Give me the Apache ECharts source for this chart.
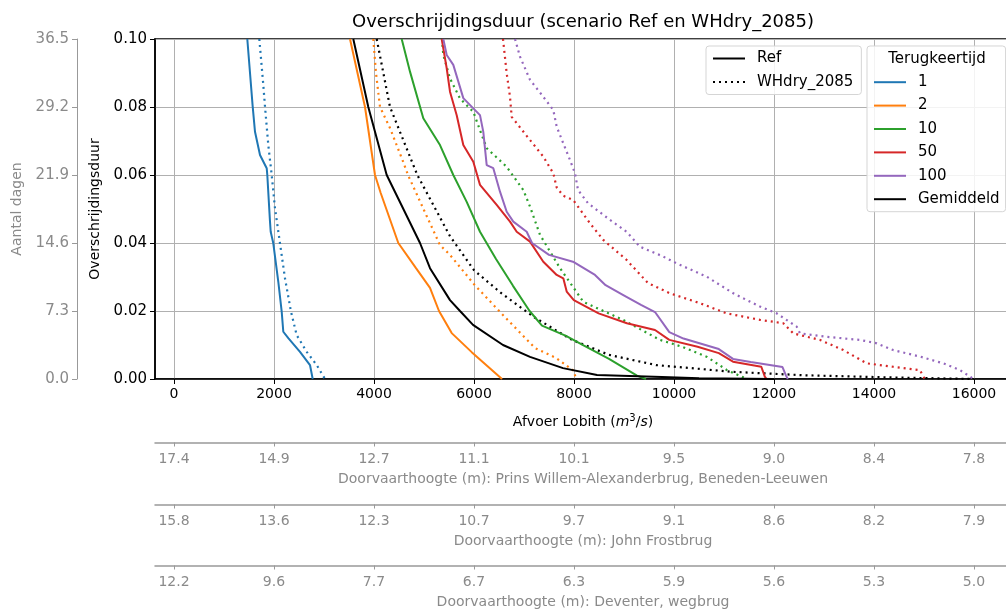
<!DOCTYPE html>
<html><head><meta charset="utf-8">
<script src="https://cdn.jsdelivr.net/npm/echarts@6/dist/echarts.min.js"></script>
<style>html,body{margin:0;padding:0;background:#fff}#c{width:1006px;height:612px}</style>
</head><body><div id="c"></div>
<script>
// ---- tick labels ----
const flowTicks = [0, 2000, 4000, 6000, 8000, 10000, 12000, 14000, 16000];
const pwaLabels = ['17.4','14.9','12.7','11.1','10.1','9.5','9.0','8.4','7.8'];
const jfLabels  = ['15.8','13.6','12.3','10.7','9.7','9.1','8.6','8.2','7.9'];
const dvLabels  = ['12.2','9.6','7.7','6.7','6.3','5.9','5.6','5.3','5.0'];

const returnPeriods = ['1', '2', '10', '50', '100', 'Gemiddeld'];
const colors = ['#1f77b4', '#ff7f0e', '#2ca02c', '#d62728', '#9467bd', '#000000'];

// ---- curves: [afvoer (m3/s), overschrijdingsduur] ----
const ref_T1 = [[1466,0.100],[1574,0.0801],[1620,0.0727],[1720,0.0659],[1854,0.062],[1866,0.060],[1920,0.0463],[1934,0.0433],[1986,0.0399],[2086,0.0286],[2154,0.0198],[2186,0.0139],[2286,0.012],[2520,0.008],[2720,0.0041],[2774,0]];
const why_T1 = [[1706,0.100],[1786,0.0865],[1820,0.0801],[1886,0.0688],[1954,0.060],[2020,0.0502],[2120,0.0399],[2220,0.0296],[2340,0.0198],[2454,0.0129],[2654,0.008],[2854,0.0041],[3020,0]];

const ref_T2 = [[3520,0.100],[3820,0.080],[4020,0.060],[4134,0.0547],[4486,0.040],[4840,0.0326],[5120,0.0268],[5300,0.020],[5554,0.0135],[5954,0.0079],[6560,0]];
const why_T2 = [[3986,0.100],[4040,0.090],[4120,0.080],[4320,0.0738],[4580,0.064],[4680,0.060],[4980,0.0503],[5320,0.0394],[5520,0.0365],[6016,0.0276],[6580,0.0188],[7220,0.0091],[7640,0.0062],[7996,0.0024],[8040,0]];

const ref_T10 = [[4554,0.100],[4720,0.0904],[4986,0.0767],[5320,0.0688],[5586,0.060],[5854,0.0521],[6120,0.0433],[6440,0.0353],[6780,0.0274],[7112,0.020],[7360,0.0157],[7840,0.0127],[8200,0.0098],[8700,0.0059],[9260,0.001],[9440,0]];
const why_T10 = [[5360,0.100],[5386,0.0953],[5520,0.0884],[5720,0.0825],[5986,0.0786],[6120,0.0732],[6254,0.0679],[6654,0.0624],[6986,0.0556],[7120,0.0507],[7320,0.0424],[7720,0.0326],[8186,0.0227],[8980,0.0174],[9720,0.0115],[10180,0.0094],[10660,0.0065],[11060,0.0026],[11460,0]];

const ref_T50 = [[5354,0.100],[5454,0.0914],[5520,0.0845],[5654,0.0776],[5786,0.0688],[5986,0.0639],[6120,0.0571],[6454,0.0512],[6720,0.0463],[6854,0.0433],[7120,0.0404],[7386,0.0345],[7654,0.0306],[7786,0.0296],[7854,0.0257],[7996,0.0232],[8492,0.0193],[9058,0.0164],[9620,0.0144],[9906,0.0115],[10472,0.0095],[10896,0.0076],[11180,0.0051],[11746,0.0036],[11816,0.0007],[11852,0]];
const why_T50 = [[6580,0.100],[6654,0.0899],[6720,0.083],[6754,0.0771],[7054,0.0715],[7386,0.0654],[7586,0.0605],[7654,0.0563],[7786,0.0539],[7986,0.0526],[8320,0.0458],[8586,0.0409],[9054,0.035],[9480,0.0282],[9920,0.0252],[10520,0.0223],[11054,0.0193],[11720,0.0174],[12186,0.0164],[12386,0.0134],[12920,0.0115],[13386,0.0085],[13854,0.0046],[14386,0.0036],[14920,0.0026],[14986,0.0007],[15020,0]];

const ref_T100 = [[5386,0.100],[5454,0.0953],[5586,0.0924],[5786,0.0826],[5986,0.0796],[6120,0.0776],[6186,0.0727],[6254,0.0629],[6386,0.062],[6520,0.0551],[6654,0.0492],[6786,0.0463],[7054,0.0433],[7160,0.040],[7500,0.0365],[7996,0.0344],[8420,0.0306],[8632,0.0276],[8986,0.0247],[9340,0.0218],[9620,0.0197],[9906,0.0138],[10190,0.0119],[10896,0.0088],[11180,0.0059],[11534,0.005],[12170,0.0035],[12240,0.001],[12276,0]];
const why_T100 = [[6820,0.100],[6920,0.0948],[7120,0.088],[7386,0.083],[7586,0.0791],[7654,0.0742],[7786,0.0693],[7920,0.0644],[8020,0.0605],[8080,0.0556],[8280,0.0517],[8720,0.0468],[9054,0.0433],[9320,0.0389],[9786,0.036],[10054,0.034],[10654,0.0301],[11186,0.0252],[11720,0.0213],[12054,0.0193],[12454,0.0154],[12520,0.0134],[13054,0.0124],[13720,0.0115],[14054,0.0105],[14386,0.0085],[14920,0.0066],[15386,0.0046],[15720,0.0026],[15920,0.0007],[15986,0]];

const ref_Gem = [[3586,0.100],[3886,0.080],[4254,0.060],[4920,0.040],[5120,0.0326],[5520,0.0232],[5720,0.020],[5980,0.0159],[6580,0.010],[7120,0.0065],[7780,0.0032],[8460,0.0012],[9760,0.0006],[10500,0.0002],[12000,0]];
const why_Gem = [[4054,0.100],[4320,0.080],[4866,0.060],[5520,0.042],[6000,0.032],[6540,0.0253],[7200,0.0182],[7960,0.0115],[8700,0.0071],[9640,0.0041],[11180,0.0021],[12600,0.0011],[14520,0.0004],[16000,0]];

const refCurves = [ref_T1, ref_T2, ref_T10, ref_T50, ref_T100, ref_Gem];
const whyCurves = [why_T1, why_T2, why_T10, why_T50, why_T100, why_Gem];

const FONT = 'DejaVu Sans';
const GREY = '#8a8a8a';
const DOT = [2, 4];

const series = [];
returnPeriods.forEach((rp, i) => {
  series.push({
    name: rp, type: 'line', xAxisIndex: 0, yAxisIndex: 0, data: refCurves[i],
    symbol: 'none', showSymbol: false, smooth: false, silent: true,
    lineStyle: { color: colors[i], width: 2 }, itemStyle: { color: colors[i] }, z: 3
  });
  series.push({
    name: rp + ' (WHdry_2085)', type: 'line', xAxisIndex: 0, yAxisIndex: 0, data: whyCurves[i],
    symbol: 'none', showSymbol: false, silent: true,
    lineStyle: { color: colors[i], width: 2.2, type: DOT, cap: 'butt' }, itemStyle: { color: colors[i] }, z: 2
  });
});
series.push({ name: 'Ref', type: 'line', data: [], symbol: 'none', lineStyle: { color: '#000', width: 2 }, itemStyle: { color: '#000' } });
series.push({ name: 'WHdry_2085', type: 'line', data: [], symbol: 'none', lineStyle: { color: '#000', width: 2.2, type: DOT, cap: 'butt' }, itemStyle: { color: '#000' } });

function lowerAxis(gridIndex, labels, title) {
  return {
    type: 'value', gridIndex: gridIndex, position: 'bottom', min: -380, max: 16740,
    axisLine: { show: true, onZero: false, lineStyle: { color: '#999', width: 1.5 } },
    axisTick: { show: true, customValues: flowTicks, length: 4, lineStyle: { color: '#999' } },
    axisLabel: { show: true, customValues: flowTicks, margin: 10, color: GREY, fontFamily: FONT, fontSize: 14,
      formatter: v => { const k = flowTicks.indexOf(Math.round(v)); return k >= 0 ? labels[k] : ''; } },
    splitLine: { show: false },
    name: title, nameLocation: 'middle', nameGap: 30,
    nameTextStyle: { color: GREY, fontFamily: FONT, fontSize: 14 }
  };
}

const legendCommon = {
  orient: 'vertical', itemWidth: 32, itemHeight: 14,
  backgroundColor: 'rgba(255,255,255,0.85)', borderColor: '#d5d5d5', borderWidth: 1, borderRadius: 3,
  selectedMode: false,
  itemStyle: { opacity: 0, borderWidth: 0, color: 'rgba(0,0,0,0)' },
  textStyle: { fontFamily: FONT, fontSize: 15, color: '#000', padding: [0, 0, 0, 7] }
};

const option = {
  animation: false,
  backgroundColor: '#fff',
  textStyle: { fontFamily: FONT },
  grid: [
    { left: 155, right: -5, top: 39, bottom: 233, show: true, borderColor: '#000', borderWidth: 1.5, containLabel: false, outerBoundsMode: 'none' },
    { left: 155, right: -5, top: 441, height: 1.5, containLabel: false, outerBoundsMode: 'none' },
    { left: 155, right: -5, top: 503, height: 1.5, containLabel: false, outerBoundsMode: 'none' },
    { left: 155, right: -5, top: 564, height: 1.5, containLabel: false, outerBoundsMode: 'none' }
  ],
  xAxis: [
    {
      type: 'value', gridIndex: 0, position: 'bottom', min: -380, max: 16740,
      axisLine: { show: true, onZero: false, lineStyle: { color: '#000', width: 1.5 } },
      axisTick: { show: true, customValues: flowTicks, length: 5, lineStyle: { color: '#000' } },
      axisLabel: { show: true, customValues: flowTicks, margin: 8, color: '#000', fontFamily: FONT, fontSize: 14,
        formatter: v => String(Math.round(v)) },
      splitLine: { show: true, lineStyle: { color: '#b0b0b0', width: 1 } },
      name: 'Afvoer Lobith ({i|m}{sup|3}/{i|s})', nameLocation: 'middle', nameGap: 34,
      nameTextStyle: { color: '#000', fontFamily: FONT, fontSize: 14,
        rich: { i: { fontStyle: 'italic', fontFamily: FONT, fontSize: 14, color: '#000' },
                sup: { fontSize: 10, fontFamily: FONT, color: '#000', padding: [0, 0, 8, 0] } } }
    },
    lowerAxis(1, pwaLabels, 'Doorvaarthoogte (m): Prins Willem-Alexanderbrug, Beneden-Leeuwen'),
    lowerAxis(2, jfLabels, 'Doorvaarthoogte (m): John Frostbrug'),
    lowerAxis(3, dvLabels, 'Doorvaarthoogte (m): Deventer, wegbrug')
  ],
  yAxis: [
    {
      type: 'value', gridIndex: 0, position: 'left', min: 0, max: 0.1, interval: 0.02,
      axisLine: { show: true, onZero: false, lineStyle: { color: '#000', width: 1.5 } },
      axisTick: { show: true, length: 5, lineStyle: { color: '#000' } },
      axisLabel: { margin: 8, color: '#000', fontFamily: FONT, fontSize: 15, formatter: v => v.toFixed(2) },
      splitLine: { show: true, lineStyle: { color: '#b0b0b0', width: 1 } },
      name: 'Overschrijdingsduur', nameLocation: 'middle', nameGap: 50,
      nameTextStyle: { color: '#000', fontFamily: FONT, fontSize: 14 }
    },
    {
      type: 'value', gridIndex: 0, position: 'left', offset: 78, min: 0, max: 36.5, interval: 7.3,
      axisLine: { show: true, onZero: false, lineStyle: { color: '#999', width: 1 } },
      axisTick: { show: true, length: 5, lineStyle: { color: '#999' } },
      axisLabel: { margin: 8, color: GREY, fontFamily: FONT, fontSize: 15, formatter: v => v.toFixed(1) },
      splitLine: { show: false },
      name: 'Aantal dagen', nameLocation: 'middle', nameGap: 52,
      nameTextStyle: { color: GREY, fontFamily: FONT, fontSize: 14 }
    },
    { type: 'value', gridIndex: 1, show: false, min: 0, max: 1 },
    { type: 'value', gridIndex: 2, show: false, min: 0, max: 1 },
    { type: 'value', gridIndex: 3, show: false, min: 0, max: 1 }
  ],
  legend: [
    Object.assign({}, legendCommon, {
      data: ['Ref', 'WHdry_2085'], left: 706, top: 46, itemGap: 8.5, padding: [5, 8, 5, 6]
    }),
    Object.assign({}, legendCommon, {
      data: returnPeriods, left: 867, top: 46, itemGap: 8.4, padding: [28.7, 6, 5, 6]
    })
  ],
  graphic: [
    { type: 'text', x: 583, y: 22, z: 100, silent: true,
      style: { text: 'Overschrijdingsduur (scenario Ref en WHdry_2085)', font: '18px "DejaVu Sans"', fill: '#000', align: 'center', verticalAlign: 'middle', textAlign: 'center', textVerticalAlign: 'middle' } },
    { type: 'text', x: 937, y: 59, z: 100, silent: true,
      style: { text: 'Terugkeertijd', font: '15px "DejaVu Sans"', fill: '#000', align: 'center', verticalAlign: 'middle', textAlign: 'center', textVerticalAlign: 'middle' } }
  ],
  series: series
};

const chart = echarts.init(document.getElementById('c'), null, { renderer: 'canvas' });
chart.setOption(option);
</script>
</body></html>
